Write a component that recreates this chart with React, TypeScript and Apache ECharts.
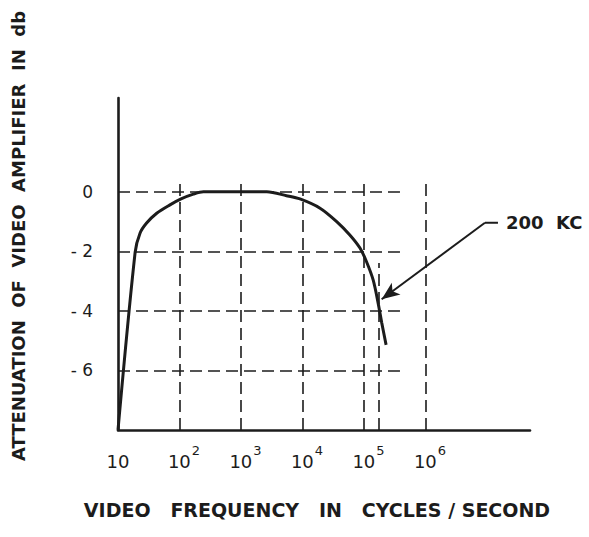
import React, { useEffect, useRef } from "react";
import * as echarts from "echarts";

const freqHz = [10, 19, 22.8, 29.2, 42.6, 70, 106, 168, 245, 1000, 2630, 5500, 9100, 19300, 36000, 58900, 86100, 109600, 141000, 170000, 195000, 229000];
const attenDb = [-8, -2.03, -1.39, -1.05, -0.72, -0.44, -0.24, -0.08, 0, 0, 0, -0.13, -0.24, -0.55, -1.0, -1.45, -1.89, -2.34, -2.96, -3.74, -4.41, -5.14];

const yGridValues = [0, -2, -4, -6];
const yTickLabels = ["0", "- 2", "- 4", "- 6"];
const xGridDecades = [100, 1000, 10000, 100000, 1000000];
const xGridTops = [0.3, 0.3, 0.3, 0.35, 0.4];
const marker200kc = 177000;
const marker200kcTop = -2.39;
const hGridEnd = 385000;
const pointerPath = [
  [15100000, -1.04],
  [9270000, -1.04],
  [194000, -3.61],
];
const pointerLabel = "200  KC";

const INK = "#1c1c1c";
const FONT = "DejaVu Sans";

export default function App() {
  const ref = useRef<HTMLDivElement>(null);
  useEffect(() => {
    if (!ref.current) return;
    const chart = echarts.init(ref.current, null, { renderer: "svg" });
    const dash = { color: INK, width: 1.6, type: [12, 6] as any };
    const gridLines: any[] = [];
    yGridValues.forEach((v) => {
      gridLines.push([{ coord: [10, v] }, { coord: [hGridEnd, v] }]);
    });
    xGridDecades.forEach((f, i) => {
      gridLines.push([{ coord: [f, -8] }, { coord: [f, xGridTops[i]] }]);
    });
    gridLines.push([{ coord: [marker200kc, -8] }, { coord: [marker200kc, marker200kcTop] }]);

    const option: any = {
      animation: false,
      backgroundColor: "#ffffff",
      grid: { left: 118, right: 59, top: 98, bottom: 107, containLabel: false },
      xAxis: {
        type: "log",
        logBase: 10,
        min: 10,
        max: Math.pow(10, 7.7),
        axisLine: { show: true, onZero: false, lineStyle: { color: INK, width: 2.6 } },
        axisTick: { show: false },
        splitLine: { show: false },
        minorTick: { show: false },
        name: "VIDEO   FREQUENCY   IN   CYCLES / SECOND",
        nameLocation: "middle",
        nameGap: 70,
        nameTextStyle: { fontFamily: FONT, fontSize: 19, fontWeight: "bold", color: INK, padding: [0, 14, 0, 0] },
        axisLabel: {
          margin: 14,
          fontFamily: FONT,
          color: INK,
          formatter: (v: number) => {
            const e = Math.round(Math.log10(v));
            if (e > 6 || Math.abs(Math.log10(v) - e) > 1e-6) return "";
            if (e === 1) return "{b|10}";
            return "{sp| }{b|10}{s|" + e + "}";
          },
          rich: {
            b: { fontFamily: FONT, fontSize: 18, color: INK, lineHeight: 26, verticalAlign: "bottom" },
            s: { fontFamily: FONT, fontSize: 13, color: INK, lineHeight: 26, verticalAlign: "top", padding: [0, 0, 10, 1] },
            sp: { fontFamily: FONT, fontSize: 13, width: 9, lineHeight: 26 },
          },
        },
      },
      yAxis: {
        type: "value",
        min: -8,
        max: 3.15,
        interval: 2,
        axisLine: { show: true, onZero: false, lineStyle: { color: INK, width: 2.6 } },
        axisTick: { show: false },
        splitLine: { show: false },
        axisLabel: {
          margin: 25,
          fontFamily: FONT,
          fontSize: 17,
          color: INK,
          formatter: (v: number) => {
            const i = yGridValues.indexOf(v);
            return i >= 0 ? yTickLabels[i] : "";
          },
        },
      },
      series: [
        {
          type: "line",
          data: freqHz.map((f, i) => [f, attenDb[i]]),
          smooth: 0.3,
          symbol: "none",
          lineStyle: { color: INK, width: 3 },
          z: 5,
          markLine: {
            silent: true,
            symbol: ["none", "none"],
            label: { show: false },
            lineStyle: dash,
            emphasis: { disabled: true },
            data: gridLines,
          },
        },
        {
          type: "line",
          data: pointerPath.slice(0, 2),
          symbol: "none",
          lineStyle: { color: INK, width: 2 },
          markLine: {
            silent: true,
            symbol: ["none", "arrow"],
            symbolSize: [11, 18],
            label: { show: false },
            lineStyle: { color: INK, width: 2, type: "solid" },
            emphasis: { disabled: true },
            data: [[{ coord: pointerPath[1] }, { coord: pointerPath[2] }]],
          },
        },
      ],
      graphic: [
        {
          type: "text",
          left: 506,
          top: 213,
          style: { text: pointerLabel, fontFamily: FONT, fontSize: 18, fontWeight: "bold", fill: INK },
        },
        {
          type: "text",
          x: 18,
          y: 236,
          rotation: Math.PI / 2,
          style: {
            text: "ATTENUATION  OF  VIDEO  AMPLIFIER  IN  db",
            fontFamily: FONT,
            fontSize: 18,
            fontWeight: "bold",
            fill: INK,
            align: "center",
            verticalAlign: "middle",
          },
        },
      ],
    };
    chart.setOption(option);
    return () => chart.dispose();
  }, []);
  return <div ref={ref} style={{ position: "absolute", left: 0, top: 0, width: 589, height: 537 }} />;
}
